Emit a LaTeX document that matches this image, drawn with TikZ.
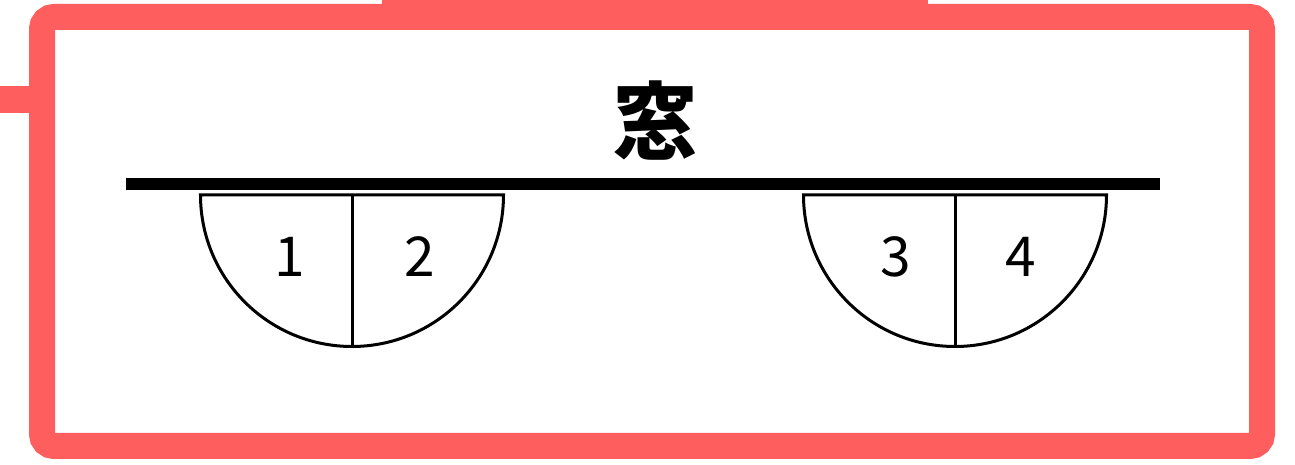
\documentclass[tikz,border=0pt]{standalone}
\usepackage{fontspec}
\newfontfamily\jp{Noto Sans CJK JP}
\usepackage{tikz}
\usetikzlibrary{positioning}
\definecolor{cadre}{HTML}{FF5E5E}
\tikzset{num/.style={font=\jp\fontsize{55}{55}\selectfont, inner sep=0pt},
         battant/.style={line width=3pt, black}}
\begin{document}
\begin{tikzpicture}[x=1pt,y=1pt]
\useasboundingbox (0,0) rectangle (1295,465);
% cadre rouge
\fill[cadre] (382,448) rectangle (928,465);
\fill[cadre] (0,352) rectangle (42,379);
\draw[cadre, line width=26pt, rounded corners=12pt] (42,19) rectangle (1262,448);
% fenetre
\node[font=\jp\bfseries\fontsize{84}{84}\selectfont, inner sep=0pt](titre) at (655,344){窓};
\coordinate (g) at (126,281);
\coordinate (d) at (1160,281);
\draw[line width=12pt] (g)--(d);
% portes
\draw[battant] (200.5,270) -- (503.5,270) arc (0:-180:151.5) -- cycle;
\draw[battant] (352,270) -- (352,118.5);
\draw[battant] (803.5,270) -- (1106.5,270) arc (0:-180:151.5) -- cycle;
\draw[battant] (955,270) -- (955,118.5);
\node[num](p1) at (290,208){1};
\node[num](p2) at (420,208){2};
\node[num](p3) at (896,208){3};
\node[num](p4) at (1021,208){4};
\end{tikzpicture}
\end{document}
